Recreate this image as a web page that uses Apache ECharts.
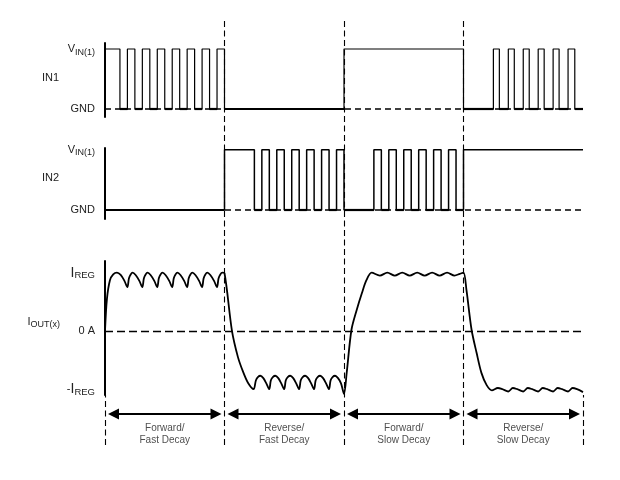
<!DOCTYPE html>
<html>
<head>
<meta charset="utf-8">
<script src="https://cdn.jsdelivr.net/npm/echarts@6/dist/echarts.min.js"></script>
<style>
html,body{margin:0;padding:0;background:#fff;}
#c{width:620px;height:480px;}
</style>
</head>
<body>
<div id="c"></div>
<script>
// ---------------- data ----------------
const segBounds = [0, 8, 16, 24, 32];
const phaseLabels = ['Forward/\nFast Decay', 'Reverse/\nFast Decay', 'Forward/\nSlow Decay', 'Reverse/\nSlow Decay'];

// IN1 high intervals (time units)
const in1High = [[0,1],[1.5,2],[2.5,3],[3.5,4],[4.5,5],[5.5,6],[6.5,7],[7.5,8],
  [16,24],
  [26,26.4],[27,27.4],[28,28.4],[29,29.4],[30,30.4],[31,31.45]];
// IN2 high intervals
const in2High = [[8,10],[10.5,11],[11.5,12],[12.5,13],[13.5,14],[14.5,15],[15.5,16],
  [18,18.5],[19,19.5],[20,20.5],[21,21.5],[22,22.5],[23,23.5],
  [24,32]];

// IOUT(x) waveform, value 1 = IREG
const ioutPoints = [
  [0,0],[0.13,0.55],[0.33,0.87],[0.55,0.97],[0.8,1.0],[1.05,0.96],[1.3,0.86],[1.5,0.75],
  [1.6,0.9],[1.72,0.97],[1.85,1.0],[2.05,0.96],[2.3,0.86],[2.5,0.75],
  [2.6,0.9],[2.72,0.97],[2.85,1.0],[3.05,0.96],[3.3,0.86],[3.5,0.75],
  [3.6,0.9],[3.72,0.97],[3.85,1.0],[4.05,0.96],[4.3,0.86],[4.5,0.75],
  [4.6,0.9],[4.72,0.97],[4.85,1.0],[5.05,0.96],[5.3,0.86],[5.5,0.75],
  [5.6,0.9],[5.72,0.97],[5.85,1.0],[6.05,0.96],[6.3,0.86],[6.5,0.75],
  [6.6,0.9],[6.72,0.97],[6.85,1.0],[7.05,0.96],[7.3,0.86],[7.5,0.75],
  [7.6,0.9],[7.72,0.97],[7.85,1.0],[8.0,0.99],
  [8.5,0.0],[8.9,-0.45],[9.24,-0.7],[9.57,-0.89],[9.95,-1.0],
  [10.1,-0.85],[10.25,-0.79],[10.4,-0.77],[10.6,-0.81],[10.8,-0.9],[11.0,-1.0],
  [11.1,-0.85],[11.25,-0.79],[11.4,-0.77],[11.6,-0.81],[11.8,-0.9],[12.0,-1.0],
  [12.1,-0.85],[12.25,-0.79],[12.4,-0.77],[12.6,-0.81],[12.8,-0.9],[13.0,-1.0],
  [13.1,-0.85],[13.25,-0.79],[13.4,-0.77],[13.6,-0.81],[13.8,-0.9],[14.0,-1.0],
  [14.1,-0.85],[14.25,-0.79],[14.4,-0.77],[14.6,-0.81],[14.8,-0.9],[15.0,-1.0],
  [15.1,-0.85],[15.25,-0.79],[15.4,-0.77],[15.6,-0.81],[15.8,-0.9],[16.0,-1.08],
  [16.18,-0.72],[16.5,0.02],[16.85,0.36],[17.2,0.65],[17.5,0.87],[17.85,1.0],
  [18.4,0.95],[18.9,1.0],[19.4,0.95],[19.9,1.0],[20.4,0.95],[20.9,1.0],[21.4,0.95],
  [21.9,1.0],[22.4,0.95],[22.9,1.0],[23.4,0.95],[23.75,0.98],[24.0,1.0],
  [24.2,0.7],[24.54,0.02],[24.88,-0.38],[25.2,-0.72],[25.55,-0.93],[25.9,-1.02],
  [26.3,-0.98],[26.6,-1.0],[27.0,-1.04],[27.3,-0.98],[27.6,-1.0],[28.0,-1.04],
  [28.3,-0.98],[28.6,-1.0],[29.0,-1.04],[29.3,-0.98],[29.6,-1.0],[30.0,-1.04],
  [30.3,-0.98],[30.6,-1.0],[31.0,-1.04],[31.3,-0.98],[31.6,-1.0],[32.0,-1.05]
];

const logicTickValues = [0, 1];
const logicTickLabels = ['{n|GND}', '{v|V}{s|IN(1)}'];
const ioutTickValues = [-1, 0, 1];
const ioutTickLabels = ['{n|-}{i|I}{r|REG}', '{n|0 A}', '{i|I}{r|REG}'];
const signalNames = ['IN1', 'IN2', '{v|I}{s|OUT(x)}'];

// ---------------- helpers ----------------
const T_END = segBounds[segBounds.length - 1];
function pulseLine(highs) {
  const pts = [];
  if (highs[0][0] > 0) pts.push([0, 0]);
  highs.forEach(([a, b]) => {
    pts.push([a, 0], [a, 1], [b, 1]);
    if (b < T_END) pts.push([b, 0]);
  });
  if (highs[highs.length - 1][1] < T_END) pts.push([T_END, 0]);
  return pts;
}
function lowSegments(highs) {
  const segs = [];
  let cur = 0;
  highs.forEach(([a, b]) => {
    if (a > cur) segs.push({ coords: [[cur, 0], [a, 0]] });
    cur = b;
  });
  if (cur < T_END) segs.push({ coords: [[cur, 0], [T_END, 0]] });
  return segs;
}

const FONT = '"Liberation Sans", Arial, sans-serif';
const TXT = '#222';
const richLabel = {
  n: { fontSize: 11, fontFamily: FONT, color: TXT },
  v: { fontSize: 11, fontFamily: FONT, color: TXT, lineHeight: 11, verticalAlign: 'top' },
  s: { fontSize: 9, fontFamily: FONT, color: TXT, lineHeight: 9, padding: [6, 0, 0, 0] },
  i: { fontSize: 14, fontFamily: FONT, color: TXT, lineHeight: 14, verticalAlign: 'top' },
  r: { fontSize: 9.5, fontFamily: FONT, color: TXT, lineHeight: 10, padding: [6, 0, 0, 0] }
};

const dashH = { type: [6, 4], width: 1.6, color: '#000' };
const dashV = { type: [6, 3.5], width: 1.1, color: '#000' };

function hLine(xi, val, style) {
  return {
    type: 'line', xAxisIndex: xi, yAxisIndex: xi, data: [], silent: true,
    markLine: { symbol: 'none', silent: true, animation: false, label: { show: false },
      lineStyle: style, data: [{ yAxis: val }] }
  };
}

const gridLeft = 105, gridRight = 37;
const grids = [
  { left: gridLeft, right: gridRight, top: 43, height: 74 },
  { left: gridLeft, right: gridRight, top: 148, height: 71 },
  { left: gridLeft, right: gridRight, top: 261, height: 134 },
  { left: gridLeft, right: gridRight, top: 395, height: 50 },
  { left: gridLeft, right: gridRight, top: 20, height: 425 }
];
const xAxes = grids.map((g, i) => ({ type: 'value', gridIndex: i, min: 0, max: T_END, show: false }));

function sigYAxis(i, min, max, vals, labels, nameGap, namePad) {
  return {
    type: 'value', gridIndex: i, min: min, max: max,
    splitLine: { show: false },
    axisTick: { show: false },
    axisLine: { show: true, lineStyle: { color: '#000', width: 2 } },
    axisLabel: {
      customValues: vals, margin: 10,
      formatter: v => labels[vals.indexOf(v)] || '',
      rich: richLabel
    },
    name: signalNames[i], nameLocation: 'middle', nameRotate: 0, nameGap: nameGap,
    nameTextStyle: { fontSize: 11, fontFamily: FONT, color: TXT, padding: namePad, rich: richLabel }
  };
}
const yAxes = [
  sigYAxis(0, -0.13, 1.1, logicTickValues, logicTickLabels, 46, [0, 0, 4, 0]),
  sigYAxis(1, -0.15, 1.03, logicTickValues, logicTickLabels, 46, [0, 0, 11, 0]),
  sigYAxis(2, -1.1, 1.2, ioutTickValues, ioutTickLabels, 45, [0, 0, 12, 0]),
  { type: 'value', gridIndex: 3, min: 0, max: 1, show: false },
  { type: 'value', gridIndex: 4, min: 0, max: 1, show: false }
];

const ARROW_Y = 0.62, LABEL_Y = 0.22, ARROW_INSET = 0.57;
const arrowData = [];
for (let k = 0; k < segBounds.length - 1; k++) {
  arrowData.push([
    { coord: [segBounds[k] + ARROW_INSET, ARROW_Y] },
    { coord: [segBounds[k + 1] - ARROW_INSET, ARROW_Y] }
  ]);
}
const labelData = phaseLabels.map((name, k) => ({
  name: name, value: [(segBounds[k] + segBounds[k + 1]) / 2, LABEL_Y]
}));

const series = [
  // vertical dashed dividers (full height)
  {
    type: 'line', xAxisIndex: 4, yAxisIndex: 4, data: [], silent: true, z: 1,
    markLine: { symbol: 'none', silent: true, animation: false, label: { show: false },
      lineStyle: dashV, data: segBounds.slice(1, -1).map(b => ({ xAxis: b })) }
  },
  // outer dividers (bottom band only)
  {
    type: 'line', xAxisIndex: 3, yAxisIndex: 3, data: [], silent: true, z: 1,
    markLine: { symbol: 'none', silent: true, animation: false, label: { show: false },
      lineStyle: dashV, data: [{ xAxis: segBounds[0] }, { xAxis: T_END }] }
  },
  // reference dashed lines
  hLine(0, 0, dashH),
  hLine(1, 0, dashH),
  hLine(2, 0, { type: [8, 4], width: 1.4, color: '#000' }),
  // IN1
  { type: 'line', xAxisIndex: 0, yAxisIndex: 0, data: pulseLine(in1High), showSymbol: false, symbol: 'none',
    lineStyle: { color: '#000', width: 1.2 }, z: 3, silent: true },
  { type: 'lines', coordinateSystem: 'cartesian2d', xAxisIndex: 0, yAxisIndex: 0, data: lowSegments(in1High),
    lineStyle: { color: '#000', width: 2.2, opacity: 1 }, z: 4, silent: true },
  // IN2
  { type: 'line', xAxisIndex: 1, yAxisIndex: 1, data: pulseLine(in2High), showSymbol: false, symbol: 'none',
    lineStyle: { color: '#000', width: 1.5 }, z: 3, silent: true },
  { type: 'lines', coordinateSystem: 'cartesian2d', xAxisIndex: 1, yAxisIndex: 1, data: lowSegments(in2High),
    lineStyle: { color: '#000', width: 2.2, opacity: 1 }, z: 4, silent: true },
  // IOUT
  { type: 'line', xAxisIndex: 2, yAxisIndex: 2, data: ioutPoints, showSymbol: false, symbol: 'none',
    smooth: 0.3, lineStyle: { color: '#000', width: 1.8 }, z: 3, silent: true },
  // phase arrows
  {
    type: 'line', xAxisIndex: 3, yAxisIndex: 3, data: [], silent: true, z: 3,
    markLine: { symbol: ['triangle', 'triangle'], symbolSize: 11, silent: true, animation: false,
      label: { show: false }, lineStyle: { type: 'solid', width: 1.8, color: '#000' },
      itemStyle: { color: '#000' }, data: arrowData }
  },
  // phase labels
  {
    type: 'scatter', xAxisIndex: 3, yAxisIndex: 3, symbolSize: 0, data: labelData, silent: true,
    label: { show: true, position: 'inside', formatter: p => p.name, fontSize: 10, lineHeight: 12,
      fontFamily: FONT, color: TXT }
  }
];

const chart = echarts.init(document.getElementById('c'));
chart.setOption({
  animation: false,
  backgroundColor: '#fff',
  grid: grids,
  xAxis: xAxes,
  yAxis: yAxes,
  series: series
});
</script>
</body>
</html>
